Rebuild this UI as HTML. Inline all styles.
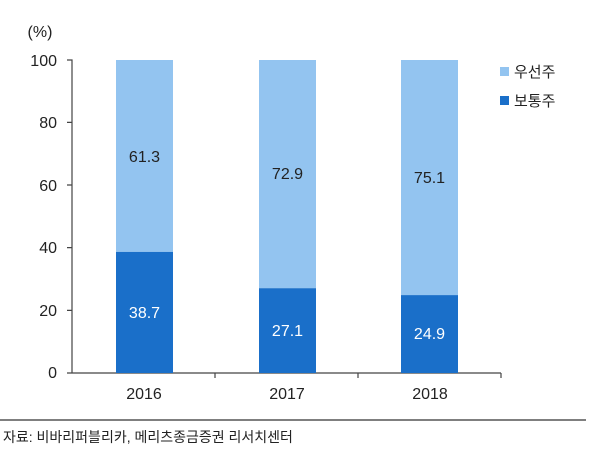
<!DOCTYPE html>
<html><head><meta charset="utf-8"><style>
body{margin:0;background:#fff;}
text{font-family:"Liberation Sans","Noto Sans CJK KR",sans-serif;}
</style></head><body>
<svg width="600" height="454" xmlns="http://www.w3.org/2000/svg">
<text x="40" y="37" font-size="16" fill="#222" text-anchor="middle">(%)</text>
<g font-size="16" fill="#222" text-anchor="end">
<text x="57" y="66">100</text><text x="57" y="128">80</text><text x="57" y="191">60</text>
<text x="57" y="253">40</text><text x="57" y="316">20</text><text x="57" y="378">0</text>
</g>
<g stroke="#444" stroke-width="1.2" fill="none">
<path d="M67 60H72V373"/>
<path d="M67 122.4H72M67 185H72M67 247.6H72M67 310.4H72M67 373H72"/>
<path d="M72 373H501M215 373V378M358 373V378M501 373V378"/>
</g>
<rect x="116" y="60" width="57" height="191.9" fill="#93c4f0"/>
<rect x="116" y="251.9" width="57" height="121.1" fill="#1a6fc9"/>
<rect x="259" y="60" width="57" height="228.2" fill="#93c4f0"/>
<rect x="259" y="288.2" width="57" height="84.8" fill="#1a6fc9"/>
<rect x="401" y="60" width="57" height="235.1" fill="#93c4f0"/>
<rect x="401" y="295.1" width="57" height="77.9" fill="#1a6fc9"/>
<g font-size="16" text-anchor="middle">
<text x="144.5" y="162" fill="#222">61.3</text>
<text x="144.5" y="318" fill="#fff">38.7</text>
<text x="287.5" y="179" fill="#222">72.9</text>
<text x="287.5" y="336" fill="#fff">27.1</text>
<text x="429.5" y="183" fill="#222">75.1</text>
<text x="429.5" y="339" fill="#fff">24.9</text>
<text x="144" y="399" fill="#222">2016</text>
<text x="287" y="399" fill="#222">2017</text>
<text x="430" y="399" fill="#222">2018</text>
</g>
<rect x="500" y="67" width="9" height="9" fill="#93c4f0"/>
<text x="514" y="77" font-size="15" fill="#222">우선주</text>
<rect x="500" y="96" width="9" height="9" fill="#1a6fc9"/>
<text x="514" y="106" font-size="15" fill="#222">보통주</text>
<line x1="0" y1="420" x2="586" y2="420" stroke="#333" stroke-width="1.2"/>
<text x="3" y="442" font-size="14" fill="#222">자료: 비바리퍼블리카, 메리츠종금증권 리서치센터</text>
</svg>
</body></html>
